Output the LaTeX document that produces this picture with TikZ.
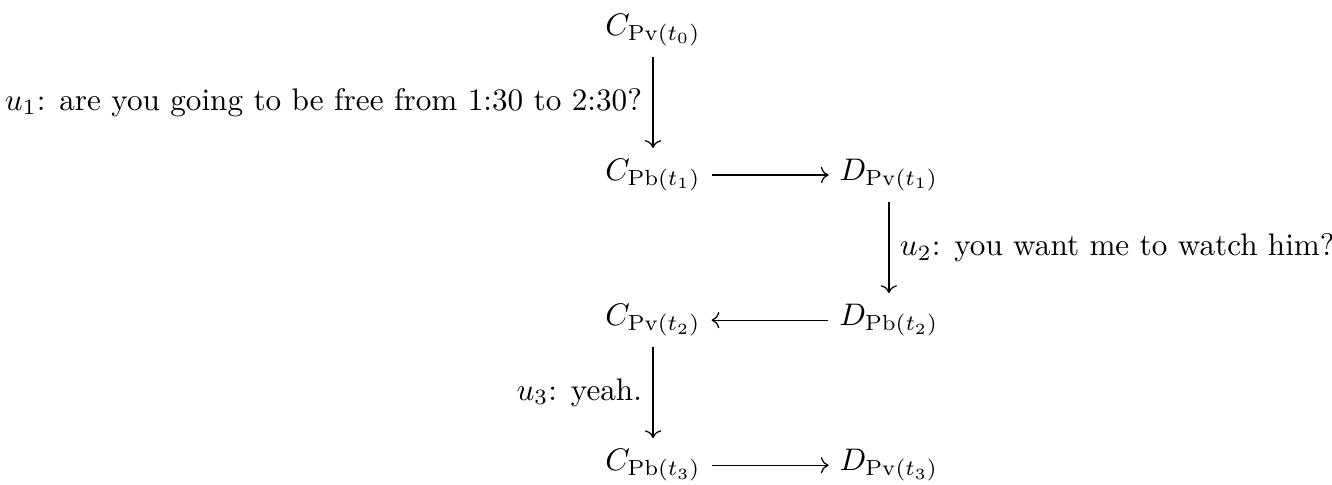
\documentclass[tikz,border=0pt]{standalone}
\usepackage{amsmath}
\usetikzlibrary{arrows.meta,positioning}

\begin{document}
\begin{tikzpicture}[
  on grid,
  node distance=46.5pt and 75.6pt,
  st/.style={inner sep=3.3pt},
  arr/.style={-{To},line width=.4pt}
]
\useasboundingbox (-209.3pt,-145.8pt) rectangle (217.6pt,9.6pt);
\node[st] (cpv0) at (0,0) {$C_{\mathrm{Pv}(t_0)}$};
\node[st,below=of cpv0] (cpb1) {$C_{\mathrm{Pb}(t_1)}$};
\node[st,right=of cpb1] (dpv1) {$D_{\mathrm{Pv}(t_1)}$};
\node[st,below=of dpv1] (dpb2) {$D_{\mathrm{Pb}(t_2)}$};
\node[st,below=of cpb1] (cpv2) {$C_{\mathrm{Pv}(t_2)}$};
\node[st,below=of cpv2] (cpb3) {$C_{\mathrm{Pb}(t_3)}$};
\node[st,right=of cpb3] (dpv3) {$D_{\mathrm{Pv}(t_3)}$};
\draw[arr] (cpv0) -- node[left] {$u_1$: are you going to be free from 1:30 to 2:30?} (cpb1);
\draw[arr] (cpb1) -- (dpv1);
\draw[arr] (dpv1) -- node[right] {$u_2$: you want me to watch him?} (dpb2);
\draw[arr] (dpb2) -- (cpv2);
\draw[arr] (cpv2) -- node[left] {$u_3$: yeah.} (cpb3);
\draw[arr] (cpb3) -- (dpv3);
\end{tikzpicture}
\end{document}
